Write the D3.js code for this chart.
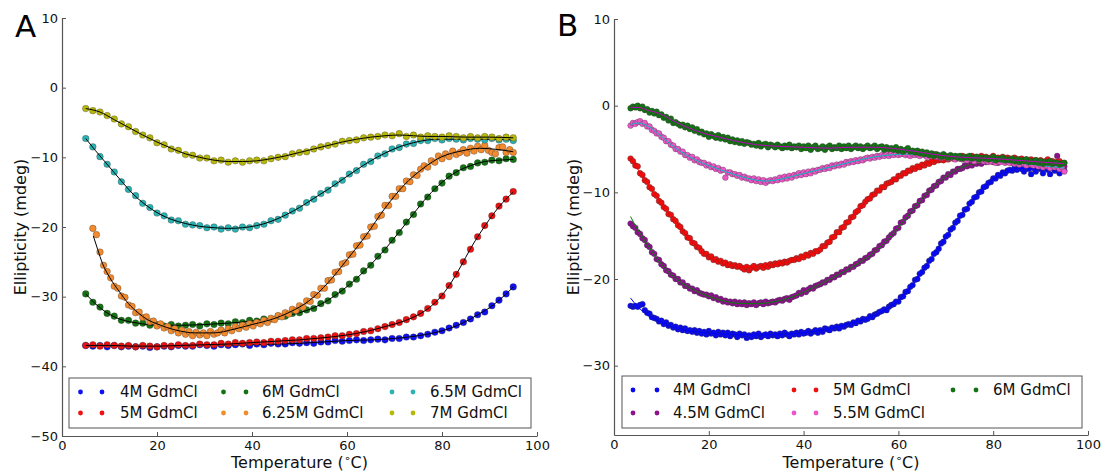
<!DOCTYPE html>
<html><head><meta charset="utf-8">
<script src="https://cdn.jsdelivr.net/npm/d3@7"></script>
<style>
body{margin:0;background:#fff;}
svg{display:block;}
text{font-family:"DejaVu Sans",sans-serif;}
</style>
</head><body>
<svg id="chart" width="1104" height="472"></svg>
<script>
// ---------------- DATA ----------------
const xTicks = [0, 20, 40, 60, 80, 100];
const yTicksA = [10, 0, -10, -20, -30, -40, -50];
const yTicksB = [10, 0, -10, -20, -30];

// Panel A sampling grids (°C)
const tempsA = d3.range(5, 95.01, 1.5);
const tempsA625 = d3.range(6.5, 95.01, 0.75);
// Panel B sampling grid (°C)
const tempsB = d3.range(3.5, 95.01, 0.5);

const labelsA = ["4M GdmCl", "5M GdmCl", "6M GdmCl", "6.25M GdmCl", "6.5M GdmCl", "7M GdmCl"];
const labelsB = ["4M GdmCl", "4.5M GdmCl", "5M GdmCl", "5.5M GdmCl", "6M GdmCl"];

const valsA_4M = [-37.0,-37.1,-37.0,-37.2,-37.0,-37.2,-37.1,-37.2,-37.1,-37.3,-37.2,-37.1,-37.2,-37.0,-37.1,-37.1,-36.9,-37.0,-37.1,-36.9,-37.0,-36.9,-36.8,-37.0,-36.8,-36.9,-36.7,-36.8,-36.8,-36.6,-36.7,-36.6,-36.7,-36.5,-36.5,-36.3,-36.4,-36.3,-36.2,-36.3,-36.2,-36.1,-36.2,-36.0,-36.0,-35.8,-35.8,-35.6,-35.4,-35.1,-34.9,-34.5,-34.1,-33.7,-33.2,-32.6,-32.2,-31.3,-30.5,-29.6,-28.6];
const valsA_5M = [-37.0,-36.9,-37.1,-36.9,-37.0,-37.1,-37.0,-37.2,-37.0,-37.1,-37.2,-37.0,-37.1,-36.9,-37.0,-37.0,-36.8,-36.9,-36.9,-36.7,-36.8,-36.6,-36.7,-36.6,-36.5,-36.6,-36.4,-36.4,-36.3,-36.2,-36.2,-36.0,-36.0,-35.9,-35.8,-35.6,-35.6,-35.4,-35.3,-35.0,-34.9,-34.6,-34.3,-34.0,-33.7,-33.3,-32.9,-32.4,-31.7,-30.8,-29.9,-28.4,-26.8,-25.0,-23.2,-21.4,-19.8,-18.4,-17.0,-16.0,-14.9];
const valsA_6M = [-29.6,-30.8,-31.5,-32.4,-32.8,-33.4,-33.4,-33.8,-33.8,-34.1,-34.0,-34.2,-34.0,-34.2,-34.1,-34.0,-34.2,-33.9,-34.0,-33.8,-33.9,-33.6,-33.7,-33.4,-33.5,-33.2,-33.2,-32.8,-32.8,-32.4,-32.3,-31.9,-31.7,-31.0,-30.6,-29.7,-29.2,-28.2,-27.5,-26.3,-25.5,-24.2,-23.3,-21.9,-20.8,-19.3,-18.2,-16.7,-15.7,-14.5,-13.7,-12.7,-12.2,-11.5,-11.3,-10.8,-10.7,-10.4,-10.5,-10.2,-10.3];
const valsA_625M = [-20.2,-21.1,-23.6,-25.5,-26.4,-27.3,-28.5,-28.8,-29.9,-30.1,
 -31.2,-31.4,-32.3,-32.2,-33.0,-32.9,-33.6,-33.5,-34.2,-33.9,
 -34.5,-34.3,-34.9,-34.6,-35.2,-34.8,-35.4,-35.0,-35.6,-35.1,
 -35.5,-35.2,-35.6,-35.0,-35.4,-35.2,-34.8,-35.2,-34.6,-34.9,
 -34.3,-34.6,-34.1,-34.4,-33.9,-34.2,-33.7,-33.9,-33.4,-33.7,
 -33.1,-33.3,-32.7,-32.9,-32.3,-32.5,-31.8,-32.0,-31.3,-31.5,
 -30.6,-30.7,-29.7,-29.8,-28.8,-28.8,-27.7,-27.6,-26.5,-26.4,
 -25.3,-25.1,-24.0,-23.9,-22.7,-22.6,-21.4,-21.3,-20.0,-19.9,
 -18.5,-18.3,-16.9,-16.9,-15.6,-15.6,-14.5,-14.5,-13.4,-13.5,
 -12.5,-12.6,-11.7,-11.2,-11.4,-10.5,-10.7,-9.8,-10.2,-9.5,
 -9.9,-9.1,-9.6,-9.3,-8.9,-9.4,-8.7,-9.1,-8.4,-8.9,
 -8.3,-9.0,-9.3,-9.5,-8.6,-8.5,-9.3,-8.9,-9.3];
const valsA_65M = [-7.3,-8.5,-9.9,-11.0,-12.1,-13.5,-14.6,-15.5,-16.6,-17.2,-18.0,-18.4,-19.0,-19.1,-19.6,-19.7,-19.8,-20.1,-20.0,-20.3,-20.1,-20.3,-20.0,-20.1,-19.8,-19.6,-19.1,-18.9,-18.3,-17.7,-17.3,-16.5,-16.0,-15.2,-14.7,-13.8,-13.3,-12.4,-11.9,-11.0,-10.6,-9.8,-9.5,-8.8,-8.6,-8.1,-8.0,-7.6,-7.6,-7.3,-7.5,-7.3,-7.4,-7.5,-7.3,-7.4,-7.5,-7.3,-7.5,-7.4,-7.6];
const valsA_7M = [-3.0,-3.3,-3.5,-4.0,-4.5,-5.2,-5.6,-6.3,-6.8,-7.2,-7.9,-8.2,-8.8,-9.0,-9.6,-9.7,-10.1,-10.1,-10.5,-10.4,-10.7,-10.5,-10.7,-10.5,-10.4,-10.5,-10.2,-10.0,-9.9,-9.5,-9.3,-9.2,-8.8,-8.5,-8.3,-8.1,-7.7,-7.6,-7.5,-7.2,-7.1,-7.0,-6.8,-6.9,-6.6,-7.0,-6.8,-7.1,-6.9,-7.0,-7.1,-6.9,-7.0,-7.2,-7.0,-7.2,-7.0,-7.1,-7.3,-7.1,-7.2];

// fitted curves, panel A: [temperature, ellipticity]
const fitA_4M = [[5,-37.05],[10,-37.1],[20,-37.15],[30,-37.0],[40,-36.9],[50,-36.7],[55,-36.5],[60,-36.3],[65,-36.2],[70,-36.0],[75,-35.6],[80,-34.9],[83,-34.2],[86,-33.2],[88,-32.4],[90,-31.6],[92,-30.5],[94,-29.3],[95,-28.6]];
const fitA_5M = [[5,-37.0],[10,-37.0],[15,-37.1],[20,-37.1],[25,-37.0],[30,-36.9],[35,-36.8],[40,-36.6],[45,-36.4],[50,-36.2],[55,-35.9],[60,-35.5],[64,-35.0],[68,-34.3],[72,-33.5],[75,-32.6],[78,-31.2],[80,-29.8],[82,-27.9],[84,-25.6],[86,-23.1],[88,-20.9],[90,-18.9],[92,-17.1],[95,-15.0]];
const fitA_6M = [[5,-29.6],[7,-31.0],[9,-32.1],[11,-32.9],[13,-33.4],[16,-33.8],[20,-34.1],[25,-34.1],[30,-34.0],[35,-33.8],[40,-33.5],[45,-33.0],[50,-32.3],[53,-31.6],[56,-30.5],[59,-29.1],[62,-27.4],[65,-25.4],[68,-23.2],[71,-20.7],[74,-18.1],[77,-15.6],[80,-13.6],[83,-12.1],[86,-11.2],[89,-10.6],[92,-10.4],[95,-10.3]];
const fitA_625M = [[6.6,-21.3],[7.5,-23.2],[8.5,-25.2],[10,-27.2],[12,-29.2],[14,-31.0],[16,-32.3],[18,-33.3],[20,-33.9],[24,-34.8],[28,-35.2],[32,-35.2],[36,-34.7],[40,-34.0],[44,-33.3],[48,-32.2],[52,-30.6],[56,-28.0],[60,-24.7],[64,-21.2],[68,-17.3],[72,-14.0],[76,-11.6],[80,-9.9],[84,-9.1],[88,-8.7],[92,-8.9],[95,-9.2]];
const fitA_65M = [[5,-7.3],[7,-9.0],[9,-10.6],[11,-12.2],[13,-13.8],[15,-15.3],[17,-16.5],[19,-17.5],[21,-18.3],[23,-18.9],[26,-19.5],[29,-19.9],[32,-20.1],[35,-20.2],[38,-20.1],[41,-19.8],[44,-19.2],[47,-18.3],[50,-17.2],[53,-15.9],[56,-14.6],[59,-13.2],[62,-11.8],[65,-10.5],[68,-9.4],[71,-8.5],[74,-7.9],[77,-7.5],[80,-7.4],[85,-7.4],[90,-7.4],[95,-7.5]];
const fitA_7M = [[5,-3.0],[8,-3.5],[11,-4.6],[14,-5.7],[17,-6.8],[20,-7.8],[23,-8.7],[26,-9.5],[29,-10.0],[32,-10.4],[35,-10.6],[38,-10.6],[41,-10.5],[44,-10.2],[47,-9.8],[50,-9.3],[53,-8.8],[56,-8.3],[59,-7.8],[62,-7.4],[65,-7.1],[68,-6.9],[71,-6.8],[74,-6.9],[77,-7.0],[80,-7.0],[85,-7.1],[90,-7.1],[95,-7.2]];

const valsB_4M = [-23.1,-23.2,-23.1,-23.2,-23.0,-22.9,-23.6,-23.9,-24.0,-24.4,
 -24.5,-24.6,-24.9,-24.8,-25.2,-25.0,-25.4,-25.3,-25.6,-25.5,
 -25.8,-25.6,-25.9,-25.7,-26.0,-25.9,-26.1,-25.9,-26.2,-26.0,
 -26.3,-26.1,-26.4,-26.0,-26.3,-26.2,-26.5,-26.1,-26.4,-26.2,
 -26.5,-26.2,-26.6,-26.3,-26.4,-26.7,-26.3,-26.5,-26.4,-26.8,
 -26.5,-26.7,-26.4,-26.6,-26.3,-26.7,-26.5,-26.4,-26.6,-26.3,
 -26.5,-26.4,-26.6,-26.3,-26.5,-26.2,-26.4,-26.6,-26.3,-26.4,
 -26.2,-26.4,-26.1,-26.3,-26.2,-26.0,-26.3,-26.1,-25.9,-26.2,
 -25.9,-26.1,-25.7,-25.8,-25.9,-25.6,-25.7,-25.5,-25.7,-25.4,
 -25.5,-25.3,-25.2,-25.3,-25.0,-25.1,-24.8,-24.9,-24.6,-24.7,
 -24.6,-24.3,-24.4,-24.1,-24.0,-23.8,-23.7,-23.5,-23.6,-23.2,
 -23.0,-22.9,-22.6,-22.6,-22.1,-22.0,-21.5,-21.4,-20.9,-20.7,
 -20.1,-20.0,-19.4,-19.2,-18.7,-18.5,-17.9,-17.7,-17.1,-16.9,
 -16.5,-15.9,-15.7,-15.1,-14.9,-14.3,-14.1,-13.5,-13.3,-12.7,
 -12.6,-12.0,-11.9,-11.3,-11.1,-10.6,-10.5,-10.0,-9.9,-9.4,
 -9.3,-8.9,-8.8,-8.4,-8.4,-8.0,-8.1,-7.7,-7.8,-7.5,
 -7.4,-7.5,-7.2,-7.4,-7.1,-7.3,-7.6,-7.1,-7.3,-7.9,
 -7.2,-7.6,-7.1,-7.3,-7.8,-7.2,-7.4,-7.9,-7.2,-7.5,
 -7.3,-7.8,-7.2,-7.5];
const valsB_45M = [-13.6,-13.9,-14.1,-14.6,-14.8,-15.3,-15.5,-16.1,-16.3,-16.9,
 -17.1,-17.7,-17.8,-18.3,-18.5,-19.0,-19.1,-19.5,-19.6,-20.0,
 -20.0,-20.4,-20.4,-20.8,-20.8,-21.1,-21.1,-21.4,-21.3,-21.6,
 -21.7,-21.8,-21.8,-22.0,-21.9,-22.2,-22.1,-22.4,-22.3,-22.6,
 -22.5,-22.7,-22.6,-22.8,-22.6,-22.9,-22.7,-22.9,-22.7,-23.0,
 -22.8,-22.9,-22.7,-23.0,-22.8,-22.7,-22.9,-22.6,-22.8,-22.7,
 -22.6,-22.7,-22.5,-22.4,-22.5,-22.3,-22.2,-22.4,-22.1,-22.0,
 -21.9,-21.6,-21.7,-21.3,-21.5,-21.2,-21.0,-21.1,-20.8,-20.7,
 -20.6,-20.4,-20.4,-20.1,-20.1,-19.8,-19.8,-19.5,-19.5,-19.2,
 -19.2,-18.9,-18.9,-18.6,-18.6,-18.3,-18.2,-17.9,-17.9,-17.6,
 -17.5,-17.2,-17.1,-16.7,-16.6,-16.2,-16.1,-15.7,-15.6,-15.2,
 -14.9,-14.7,-14.2,-14.1,-13.5,-13.4,-12.9,-12.7,-12.2,-12.1,
 -11.6,-11.5,-11.0,-10.9,-10.4,-10.3,-9.8,-9.7,-9.3,-9.2,
 -8.8,-8.7,-8.3,-8.3,-7.9,-8.0,-7.6,-7.6,-7.3,-7.3,
 -7.2,-6.9,-7.0,-6.8,-6.9,-6.6,-6.7,-6.5,-6.7,-6.4,
 -6.5,-6.4,-6.3,-6.5,-6.3,-6.6,-6.4,-6.2,-6.5,-6.4,
 -6.3,-6.6,-6.4,-6.5,-6.2,-6.6,-6.4,-6.7,-6.5,-6.3,
 -6.6,-6.4,-6.8,-6.5,-6.7,-6.6,-6.8,-6.6,-6.9,-6.7,
 -5.8,-6.9,-6.7,-7.0];
const valsB_5M = [-6.1,-6.4,-6.9,-7.0,-7.8,-8.0,-8.6,-8.8,-9.4,-9.6,
 -10.2,-10.4,-11.0,-11.2,-11.7,-11.9,-12.5,-12.6,-13.1,-13.3,
 -13.8,-14.0,-14.5,-14.7,-15.2,-15.3,-15.8,-15.9,-16.3,-16.4,
 -16.8,-17.1,-17.1,-17.5,-17.4,-17.8,-17.7,-18.0,-17.9,-18.2,
 -18.1,-18.4,-18.3,-18.5,-18.4,-18.6,-18.5,-18.7,-18.9,-18.6,
 -19.0,-18.7,-18.5,-18.8,-18.6,-18.5,-18.7,-18.4,-18.6,-18.3,
 -18.4,-18.2,-18.3,-18.1,-18.2,-18.0,-18.1,-17.9,-17.8,-17.8,
 -17.6,-17.7,-17.4,-17.5,-17.2,-17.3,-17.0,-17.1,-16.8,-16.8,
 -16.6,-16.2,-16.2,-15.8,-15.7,-15.2,-15.1,-14.6,-14.6,-14.1,
 -14.0,-13.5,-13.4,-12.9,-12.8,-12.3,-12.1,-11.6,-11.5,-11.1,
 -10.8,-10.7,-10.3,-10.2,-9.8,-9.8,-9.4,-9.4,-9.0,-8.9,
 -8.8,-8.5,-8.5,-8.1,-8.1,-7.8,-7.8,-7.5,-7.5,-7.2,
 -7.3,-7.0,-7.1,-6.8,-6.9,-6.6,-6.7,-6.4,-6.5,-6.3,
 -6.3,-6.2,-6.3,-6.0,-6.2,-5.9,-6.1,-6.0,-5.9,-6.1,
 -5.8,-6.0,-5.9,-6.1,-5.8,-6.0,-5.9,-6.1,-5.8,-6.0,
 -5.9,-6.1,-6.0,-5.8,-6.1,-6.0,-6.2,-5.9,-6.1,-6.0,
 -6.1,-6.3,-6.0,-6.2,-6.3,-6.1,-6.4,-6.2,-6.3,-6.2,
 -6.4,-6.3,-6.5,-6.3,-6.6,-6.4,-6.2,-6.5,-6.4,-6.6,
 -6.5,-6.4,-6.7,-6.6];
const valsB_55M = [-2.3,-2.0,-2.1,-1.9,-1.8,-2.1,-2.0,-2.4,-2.4,-2.8,
 -2.9,-3.2,-3.2,-3.6,-3.7,-4.1,-4.1,-4.5,-4.6,-5.0,
 -5.0,-5.3,-5.3,-5.7,-5.7,-6.0,-5.9,-6.3,-6.2,-6.5,
 -6.6,-6.6,-6.9,-6.8,-7.1,-7.0,-7.3,-7.2,-7.5,-7.4,
 -8.3,-7.7,-7.7,-7.9,-7.9,-8.1,-8.0,-8.3,-8.2,-8.4,
 -8.4,-8.6,-8.4,-8.7,-8.5,-8.8,-8.6,-8.9,-8.7,-8.6,
 -8.7,-8.5,-8.6,-8.3,-8.5,-8.2,-8.4,-8.1,-8.3,-8.0,
 -8.1,-7.8,-8.0,-7.7,-7.9,-7.6,-7.8,-7.5,-7.6,-7.4,
 -7.4,-7.2,-7.3,-7.1,-7.2,-6.9,-7.0,-6.8,-6.9,-6.7,
 -6.8,-6.5,-6.6,-6.4,-6.5,-6.3,-6.4,-6.2,-6.3,-6.1,
 -6.0,-6.1,-5.9,-6.0,-5.8,-5.9,-5.7,-5.8,-5.6,-5.8,
 -5.6,-5.7,-5.5,-5.7,-5.6,-5.5,-5.7,-5.6,-5.8,-5.6,
 -5.7,-5.6,-5.8,-5.6,-5.7,-5.9,-5.7,-5.8,-5.6,-5.9,
 -5.8,-6.0,-5.8,-5.9,-6.1,-5.9,-6.0,-6.2,-5.9,-6.1,
 -6.2,-6.0,-6.3,-6.1,-6.2,-6.4,-6.1,-6.3,-6.2,-6.4,
 -6.3,-6.5,-6.4,-6.2,-6.6,-6.4,-6.5,-6.3,-6.6,-6.5,
 -6.6,-6.4,-6.7,-6.6,-6.8,-6.5,-6.7,-6.9,-6.6,-6.8,
 -6.9,-6.7,-7.0,-6.8,-7.1,-6.9,-7.0,-7.2,-6.9,-7.1,
 -7.0,-7.3,-7.1,-7.6];
const valsB_6M = [-0.3,-0.1,-0.2,0.0,-0.3,-0.1,-0.5,-0.4,-0.8,-0.6,
 -0.9,-0.7,-1.1,-1.0,-1.4,-1.3,-1.7,-1.5,-2.0,-1.9,
 -2.1,-2.3,-2.2,-2.5,-2.3,-2.7,-2.5,-2.9,-2.7,-3.1,
 -3.0,-3.3,-3.2,-3.6,-3.3,-3.5,-3.7,-3.4,-3.8,-3.6,
 -3.9,-3.7,-4.1,-3.9,-4.2,-4.0,-4.3,-4.1,-4.4,-4.2,
 -4.3,-4.5,-4.4,-4.6,-4.3,-4.7,-4.5,-4.4,-4.8,-4.5,
 -4.6,-4.8,-4.5,-4.7,-4.9,-4.6,-4.8,-4.5,-4.9,-4.7,
 -4.8,-4.6,-5.0,-4.7,-4.9,-4.6,-5.1,-4.8,-4.6,-5.0,
 -4.9,-4.7,-5.1,-4.8,-4.6,-5.0,-4.8,-4.9,-4.6,-5.0,
 -4.7,-4.9,-4.6,-5.0,-4.8,-4.6,-4.9,-4.7,-5.0,-4.8,
 -4.6,-4.9,-4.8,-4.6,-5.0,-4.8,-4.7,-5.1,-4.8,-5.0,
 -4.9,-5.1,-4.8,-5.2,-5.0,-5.3,-5.1,-4.9,-5.3,-5.2,
 -5.4,-5.2,-5.5,-5.3,-5.6,-5.4,-5.7,-5.5,-5.8,-5.6,
 -5.7,-5.9,-5.6,-5.8,-6.0,-5.7,-5.9,-5.8,-6.0,-5.8,
 -6.1,-5.9,-6.0,-5.8,-6.1,-6.0,-5.9,-6.2,-6.0,-6.1,
 -6.0,-6.2,-6.1,-5.9,-6.3,-6.1,-6.2,-6.0,-6.3,-6.2,
 -6.3,-6.1,-6.4,-6.2,-6.5,-6.3,-6.4,-6.2,-6.5,-6.4,
 -6.5,-6.3,-6.6,-6.4,-6.7,-6.5,-6.6,-6.4,-6.7,-6.6,
 -6.6,-6.8,-6.7,-6.6];

// fitted curves, panel B
const fitB_4M = [[3.5,-22.2],[5,-23.2],[7,-24.1],[10,-25.0],[13,-25.6],[16,-26.0],[20,-26.25],[25,-26.4],[30,-26.45],[35,-26.4],[40,-26.2],[45,-25.8],[50,-25.1],[55,-24.2],[58,-23.3],[60,-22.5],[62,-21.3],[64,-19.9],[66,-18.4],[68,-16.8],[70,-15.2],[72,-13.6],[74,-12.1],[76,-10.7],[78,-9.5],[80,-8.5],[82,-7.8],[84,-7.4],[86,-7.25],[90,-7.25],[95,-7.35]];
const fitB_45M = [[3.5,-12.8],[5,-14.3],[7,-16.0],[9,-17.6],[11,-18.9],[13,-19.9],[15,-20.7],[17,-21.3],[20,-22.0],[23,-22.5],[26,-22.8],[30,-22.85],[34,-22.6],[38,-22.0],[42,-21.0],[46,-19.9],[50,-18.7],[54,-17.3],[58,-15.3],[61,-13.4],[64,-11.4],[67,-9.6],[70,-8.2],[73,-7.2],[76,-6.7],[80,-6.45],[85,-6.45],[90,-6.6],[95,-6.85]];
const fitB_5M = [[3.5,-6.1],[5,-7.3],[7,-8.9],[9,-10.5],[11,-12.0],[13,-13.4],[15,-14.8],[17,-16.0],[19,-17.0],[21,-17.7],[24,-18.3],[27,-18.6],[30,-18.6],[33,-18.4],[36,-18.1],[39,-17.6],[42,-17.0],[45,-15.9],[48,-14.2],[50,-13.0],[52,-11.7],[54,-10.6],[56,-9.7],[58,-8.9],[60,-8.2],[63,-7.3],[66,-6.6],[70,-6.1],[75,-5.9],[80,-6.0],[85,-6.2],[90,-6.4],[95,-6.6]];
const fitB_55M = [[3.5,-2.2],[5,-2.0],[7,-2.3],[9,-3.1],[11,-4.0],[13,-4.9],[15,-5.6],[17,-6.2],[19,-6.7],[21,-7.1],[24,-7.7],[27,-8.2],[30,-8.6],[32,-8.7],[35,-8.5],[38,-8.1],[41,-7.7],[44,-7.3],[47,-6.9],[50,-6.5],[54,-6.0],[58,-5.7],[62,-5.6],[66,-5.7],[70,-5.9],[75,-6.2],[80,-6.4],[85,-6.6],[90,-6.9],[95,-7.2]];
const fitB_6M = [[3.5,-0.2],[5,-0.2],[7,-0.5],[10,-1.0],[12,-1.6],[15,-2.4],[19,-3.2],[22,-3.6],[25,-4.0],[30,-4.5],[35,-4.7],[40,-4.8],[45,-4.9],[50,-4.8],[55,-4.8],[60,-5.0],[65,-5.4],[70,-5.8],[75,-6.0],[80,-6.1],[85,-6.3],[90,-6.5],[95,-6.7]];

// ---------------- DRAW ----------------
const svg = d3.select("#chart");

const panels = [
  {
    letter: "A", letterX: 15, letterY: 37,
    xr: [62, 537], yr: [436, 18], ydom: [-50, 10], yTicks: yTicksA, ylabX: 20,
    series: [
      {label: labelsA[0], color: "#1010f5", temps: tempsA, vals: valsA_4M, fit: fitA_4M, fitColor: "#000"},
      {label: labelsA[1], color: "#ee1111", temps: tempsA, vals: valsA_5M, fit: fitA_5M, fitColor: "#000"},
      {label: labelsA[2], color: "#137313", temps: tempsA, vals: valsA_6M, fit: fitA_6M, fitColor: "#000"},
      {label: labelsA[3], color: "#f28a2e", temps: tempsA625, vals: valsA_625M, fit: fitA_625M, fitColor: "#000"},
      {label: labelsA[4], color: "#2ab3b3", temps: tempsA, vals: valsA_65M, fit: fitA_65M, fitColor: "#000"},
      {label: labelsA[5], color: "#b8b80a", temps: tempsA, vals: valsA_7M, fit: fitA_7M, fitColor: "#000"}
    ],
    legend: {x0: 69, y0: 378, x1: 531, y1: 428,
      items: [[0, 80.5, 102, 120, 392], [1, 80.5, 102, 120, 413],
              [2, 223.5, 246, 262, 392], [3, 223.5, 246, 262, 413],
              [4, 392, 413, 430, 392], [5, 392, 413, 430, 413]]}
  },
  {
    letter: "B", letterX: 557, letterY: 36,
    xr: [614, 1088], yr: [435, 19], ydom: [-38, 10], yTicks: yTicksB, ylabX: 573,
    series: [
      {label: labelsB[0], color: "#0a0af2", temps: tempsB, vals: valsB_4M, fit: fitB_4M, fitColor: "#0000ff"},
      {label: labelsB[1], color: "#8e128e", temps: tempsB, vals: valsB_45M, fit: fitB_45M, fitColor: "#008000"},
      {label: labelsB[2], color: "#ee1010", temps: tempsB, vals: valsB_5M, fit: fitB_5M, fitColor: "#ff0000"},
      {label: labelsB[3], color: "#ee55c8", temps: tempsB, vals: valsB_55M, fit: fitB_55M, fitColor: "#00bfbf"},
      {label: labelsB[4], color: "#137313", temps: tempsB, vals: valsB_6M, fit: fitB_6M, fitColor: "#bf00bf"}
    ],
    legend: {x0: 622, y0: 376, x1: 1082, y1: 428,
      items: [[0, 633, 657, 673, 390], [1, 633, 657, 673, 413],
              [2, 794, 816, 833, 390], [3, 794, 816, 833, 413],
              [4, 953, 976, 993, 390]]},
    r: 2.9
  }
];

panels.forEach(p => {
  const x = d3.scaleLinear().domain([0, 100]).range(p.xr);
  const y = d3.scaleLinear().domain(p.ydom).range(p.yr);
  const g = svg.append("g");

  // series
  const line = d3.line().x(d => x(d[0])).y(d => y(d[1])).curve(d3.curveMonotoneX);
  p.series.forEach(s => {
    const pts = s.vals.map((v, i) => [s.temps[i], v]);
    g.append("g").selectAll("circle").data(pts).join("circle")
      .attr("cx", d => x(d[0])).attr("cy", d => y(d[1]))
      .attr("r", p.r || 3.3)
      .attr("fill", s.color)
      .attr("stroke", "#333").attr("stroke-opacity", 0.55).attr("stroke-width", 0.6);
    g.append("path").datum(s.fit).attr("d", line)
      .attr("fill", "none").attr("stroke", s.fitColor).attr("stroke-width", 1);
  });

  // axes
  const ax = g.append("g").attr("transform", `translate(0,${p.yr[0]})`)
    .call(d3.axisBottom(x).tickValues(xTicks).tickSizeInner(-4).tickSizeOuter(0).tickPadding(5).tickFormat(d3.format("d")));
  const ay = g.append("g").attr("transform", `translate(${p.xr[0]},0)`)
    .call(d3.axisLeft(y).tickValues(p.yTicks).tickSizeInner(-4).tickSizeOuter(0).tickPadding(4).tickFormat(d3.format("d")));
  [ax, ay].forEach(a => {
    a.select(".domain").attr("stroke", "#555").attr("stroke-width", 1.2);
    a.selectAll(".tick line").attr("stroke", "#555");
    a.selectAll(".tick text").attr("font-size", 13).attr("fill", "#111")
      .attr("font-family", "DejaVu Sans, sans-serif");
  });

  // axis labels
  const xl = g.append("text")
    .attr("x", (p.xr[0] + p.xr[1]) / 2).attr("y", 468)
    .attr("text-anchor", "middle").attr("font-size", 16).attr("fill", "#111");
  xl.append("tspan").text("Temperature (");
  xl.append("tspan").attr("font-size", 11).attr("dy", -6).text("∘");
  xl.append("tspan").attr("dy", 6).text("C)");

  g.append("text")
    .attr("transform", `translate(${p.ylabX},${(p.yr[0] + p.yr[1]) / 2}) rotate(-90)`)
    .attr("text-anchor", "middle").attr("dominant-baseline", "central")
    .attr("font-size", 16).attr("fill", "#111").text("Ellipticity (mdeg)");

  // panel letter
  g.append("text").attr("x", p.letterX).attr("y", p.letterY)
    .attr("font-family", "Liberation Sans, Arial, sans-serif")
    .attr("font-size", 31).attr("fill", "#000").text(p.letter);

  // legend
  const L = p.legend;
  g.append("rect").attr("x", L.x0).attr("y", L.y0)
    .attr("width", L.x1 - L.x0).attr("height", L.y1 - L.y0)
    .attr("fill", "#fff").attr("stroke", "#555").attr("stroke-width", 1);
  L.items.forEach(([i, m1, m2, tx, ty]) => {
    const s = p.series[i];
    [m1, m2].forEach(mx => g.append("circle").attr("cx", mx).attr("cy", ty).attr("r", 2.4).attr("fill", s.color));
    g.append("text").attr("x", tx).attr("y", ty).attr("dominant-baseline", "central")
      .attr("font-size", 15).attr("fill", "#111").text(s.label);
  });
});
</script>
</body></html>
